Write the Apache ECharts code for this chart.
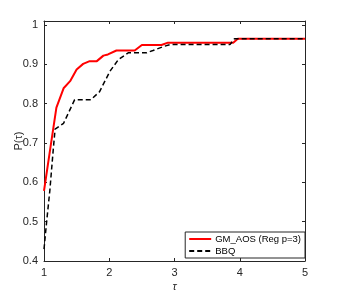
<!DOCTYPE html>
<html><head><meta charset="utf-8">
<script src="https://cdn.jsdelivr.net/npm/echarts@6/dist/echarts.min.js"></script>
<style>html,body{margin:0;padding:0;background:#fff}#c{width:337px;height:294px}</style>
</head><body><div id="c"></div>
<script>
const redTau = [1, 1.1, 1.19, 1.30, 1.40, 1.50, 1.60, 1.70, 1.81, 1.91, 1.98, 2.11, 2.39, 2.50, 2.80, 2.90, 3.90, 3.97, 5];
const redP   = [0.578, 0.69, 0.79, 0.839, 0.857, 0.887, 0.901, 0.908, 0.908, 0.922, 0.925, 0.935, 0.935, 0.949, 0.949, 0.955, 0.955, 0.965, 0.965];
const blkTau = [1, 1.04, 1.09, 1.14, 1.17, 1.30, 1.47, 1.72, 1.85, 2.01, 2.14, 2.29, 2.57, 2.67, 2.83, 2.93, 3.85, 3.92, 5];
const blkP   = [0.43, 0.499, 0.58, 0.68, 0.735, 0.75, 0.81, 0.81, 0.83, 0.882, 0.912, 0.929, 0.929, 0.935, 0.945, 0.95, 0.95, 0.965, 0.965];
const seriesNames = ['GM_AOS (Reg p=3)', 'BBQ'];
const xTicks = [1, 2, 3, 4, 5];
const yTicks = [0.4, 0.5, 0.6, 0.7, 0.8, 0.9, 1];

const font = 'Liberation Sans, Arial, sans-serif';
const axCol = '#262626';
const chart = echarts.init(document.getElementById('c'), null, {renderer: 'canvas'});
const zip = (a, b) => a.map((v, i) => [v, b[i]]);
chart.setOption({
  animation: false,
  grid: {left: 44, right: 32, top: 21, bottom: 33, outerBoundsMode: 'none', containLabel: false},
  xAxis: [{
    type: 'value', min: xTicks[0], max: xTicks[xTicks.length - 1], interval: 1,
    name: 'τ', nameLocation: 'middle', nameGap: 20, nameMoveOverlap: false,
    nameTextStyle: {fontFamily: font, fontSize: 11, fontStyle: 'italic', color: axCol},
    axisLine: {lineStyle: {color: axCol, width: 1}},
    axisTick: {inside: true, length: 3, lineStyle: {color: axCol}},
    axisLabel: {fontFamily: font, fontSize: 11, color: axCol, margin: 6},
    splitLine: {show: false}
  }, {
    type: 'value', position: 'top', min: 1, max: 5, interval: 1,
    axisLine: {onZero: false, lineStyle: {color: axCol, width: 1}},
    axisTick: {inside: true, length: 3, lineStyle: {color: axCol}},
    axisLabel: {show: false}, splitLine: {show: false}
  }],
  yAxis: [{
    type: 'value', min: yTicks[0], max: 1.01, interval: 0.1,
    name: 'P(τ)', nameLocation: 'middle', nameGap: 20, nameMoveOverlap: false,
    nameTextStyle: {fontFamily: font, fontSize: 11, color: axCol},
    axisLine: {show: true, lineStyle: {color: axCol, width: 1}},
    axisTick: {inside: true, length: 3, lineStyle: {color: axCol}},
    axisLabel: {fontFamily: font, fontSize: 11, color: axCol, margin: 6, showMaxLabel: false,
      formatter: v => (Math.abs(v * 10 - Math.round(v * 10)) < 1e-6 ? (Math.round(v * 10) / 10).toString() : '')},
    splitLine: {show: false}
  }, {
    type: 'value', position: 'right', min: 0.4, max: 1.01, interval: 0.1,
    axisLine: {show: true, onZero: false, lineStyle: {color: axCol, width: 1}},
    axisTick: {inside: true, length: 3, lineStyle: {color: axCol}},
    axisLabel: {show: false}, splitLine: {show: false}
  }],
  legend: {
    right: 32, bottom: 36, orient: 'vertical',
    itemStyle: {opacity: 0},
    backgroundColor: '#fff', borderColor: axCol, borderWidth: 1,
    padding: [2, 4, 2, 3], itemGap: 2, itemWidth: 22, itemHeight: 10,
    textStyle: {fontFamily: font, fontSize: 9.5, color: '#000', padding: [0, 0, 0, -1]},
    data: seriesNames
  },
  series: [{
    name: seriesNames[0], type: 'line', data: zip(redTau, redP), symbol: 'none',
    lineStyle: {color: '#ff0000', width: 2}, itemStyle: {color: '#ff0000'}, z: 3
  }, {
    name: seriesNames[1], type: 'line', data: zip(blkTau, blkP), symbol: 'none',
    lineStyle: {color: '#000', width: 1.5, type: [5, 3]}, itemStyle: {color: '#000'}, z: 4
  }]
});
</script></body></html>
